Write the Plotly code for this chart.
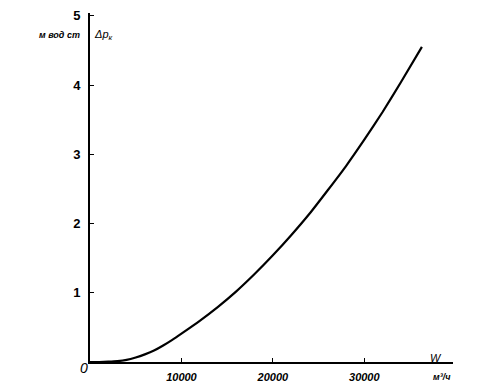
import plotly.graph_objects as go

# Data (W in m3/h, pressure drop in m water column)
W = [0, 1000, 2000, 3000, 4000, 5000, 6000, 7000, 8000, 9000, 10000, 12000, 14000, 16000,
     18000, 20000, 22000, 24000, 26000, 28000, 30000, 32000, 34000, 36300]
dp = [0.0, 0.0, 0.004, 0.012, 0.03, 0.065, 0.11, 0.165, 0.238, 0.32, 0.41, 0.595, 0.797, 1.02,
      1.27, 1.54, 1.83, 2.14, 2.48, 2.83, 3.21, 3.61, 4.04, 4.55]

x_ticks = [10000, 20000, 30000]
x_tick_text = ["10000", "20000", "30000"]
y_ticks = [1, 2, 3, 4, 5]
y_tick_text = ["1", "2", "3", "4", "5"]

font_fam = "Liberation Sans, Arial, sans-serif"
# page has an 8px body margin; plot area in window pixels: x 90..453, y 13..362
FW, FH = 486, 378
L, R, T, B = 82, 41, 5, 24
PX0, PX1, PY0, PY1 = 90, 453, 13, 362

fig = go.Figure()
fig.add_trace(go.Scatter(x=W, y=dp, mode="lines",
                         line=dict(color="black", width=2.2, shape="spline", smoothing=0.5),
                         hoverinfo="skip", showlegend=False))

fig.update_layout(
    width=FW, height=FH,
    margin=dict(l=L, r=R, t=T, b=B, autoexpand=False),
    paper_bgcolor="white", plot_bgcolor="white",
    font=dict(family=font_fam, color="black"),
    xaxis=dict(range=[0, 39700], showgrid=False, zeroline=False, automargin=False,
               showline=True, linecolor="black", linewidth=1.6,
               tickvals=x_ticks, ticktext=["<b><i>%s</i></b>" % t for t in x_tick_text],
               ticks="inside", ticklen=4, tickcolor="black", tickwidth=1,
               tickfont=dict(size=11, family=font_fam), ticklabelstandoff=4),
    yaxis=dict(range=[0, 5.04], showgrid=False, zeroline=False, automargin=False,
               showline=True, linecolor="black", linewidth=1.6,
               tickvals=y_ticks, ticktext=["<b>%s</b>" % t for t in y_tick_text],
               ticks="inside", ticklen=4, tickcolor="black", tickwidth=1,
               tickfont=dict(size=13, family=font_fam), ticklabelstandoff=5),
)

# text labels placed at window-pixel positions, converted to plot-area paper coords
ann = [
    (84, 368, "<i>0</i>", 14),
    (59, 35, "<b><i>м вод ст</i></b>", 9),
    (103, 35, "<i>Δp<sub>к</sub></i>", 11),
    (436, 358, "<i>W</i>", 11),
    (442, 377, "<b><i>м³/ч</i></b>", 9),
]
for px, py, txt, sz in ann:
    fig.add_annotation(x=(px - PX0) / (PX1 - PX0), y=(PY1 - py) / (PY1 - PY0),
                       xref="paper", yref="paper",
                       xanchor="center", yanchor="middle", showarrow=False,
                       text=txt, font=dict(size=sz, family=font_fam, color="black"))

fig.write_html("out.html")
